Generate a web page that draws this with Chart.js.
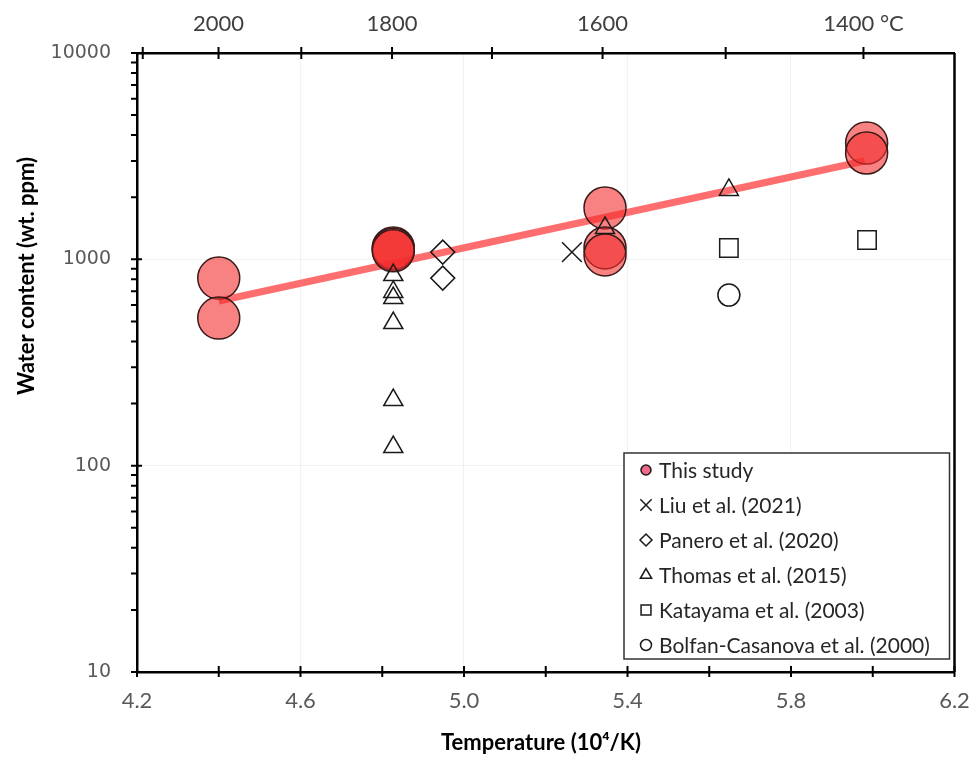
<!DOCTYPE html>
<html>
<head>
<meta charset="utf-8">
<script src="https://cdn.jsdelivr.net/npm/chart.js@4.4.0/dist/chart.umd.min.js"></script>
<style>
  html, body { margin: 0; padding: 0; background: #fff; }
</style>
</head>
<body>
<canvas id="chart" width="977" height="757"></canvas>
<script>
// data (x in 10^4/K, y in wt. ppm)
const thisStudyX = [4.40, 4.40, 4.827, 4.827, 4.827, 5.345, 5.345, 5.345, 5.985, 5.985];
const thisStudyY = [811, 519, 1135, 1120, 1100, 1774, 1135, 1050, 3660, 3276];
const fitX = [4.40, 5.98];
const fitY = [628, 2997];
const liuX = [5.264];
const liuY = [1084];
const paneroX = [4.948, 4.948];
const paneroY = [1084, 811];
const thomasX = [4.827, 4.827, 4.827, 4.827, 4.827, 4.827, 5.345, 5.648];
const thomasY = [839, 695, 649, 491, 208, 123, 1419, 2168];
const katayamaX = [5.648, 5.986];
const katayamaY = [1135, 1241];
const bolfanX = [5.648];
const bolfanY = [671];

// top axis: temperature in degrees C
const topTempsC = [2100, 2000, 1900, 1800, 1700, 1600, 1500, 1400];
const topLabels = ['', '2000', '', '1800', '', '1600', '', '1400 \u00B0C'];
const yLabelValues = [10, 100, 1000, 10000];

const pts = (xs, ys) => xs.map((x, i) => ({ x: x, y: ys[i] }));

const openMarker = {
  backgroundColor: 'rgba(0,0,0,0)',
  borderColor: '#1a1a1a',
  borderWidth: 1.5,
  showLine: false
};

const legendItems = [
  { label: 'This study', style: 'circle', r: 5, fill: '#ee6a86' },
  { label: 'Liu et al. (2021)', style: 'crossRot', r: 8 },
  { label: 'Panero et al. (2020)', style: 'rectRot', r: 6 },
  { label: 'Thomas et al. (2015)', style: 'triangle', r: 6.5 },
  { label: 'Katayama et al. (2003)', style: 'rect', r: 7 },
  { label: 'Bolfan-Casanova et al. (2000)', style: 'circle', r: 5.5 }
];

// tick marks that cross the axis lines, plus right frame line
const axisTicks = {
  id: 'axisTicks',
  afterDraw(chart) {
    const ctx = chart.ctx;
    const a = chart.chartArea;
    ctx.save();
    ctx.strokeStyle = '#000';
    ctx.lineWidth = 2;
    ctx.beginPath();
    chart.scales.x.ticks.forEach(t => {
      const px = chart.scales.x.getPixelForValue(t.value);
      ctx.moveTo(px, a.bottom - 6); ctx.lineTo(px, a.bottom + 5);
    });
    chart.scales.xTop.ticks.forEach(t => {
      const px = chart.scales.xTop.getPixelForValue(t.value);
      ctx.moveTo(px, a.top - 6); ctx.lineTo(px, a.top + 6);
    });
    chart.scales.y.ticks.forEach(t => {
      const py = chart.scales.y.getPixelForValue(t.value);
      const major = yLabelValues.includes(t.value);
      ctx.moveTo(a.left - 6, py); ctx.lineTo(a.left + (major ? 5 : 0), py);
    });
    ctx.stroke();
    ctx.lineWidth = 2.5;
    ctx.beginPath();
    ctx.moveTo(a.right, a.top); ctx.lineTo(a.right, a.bottom);
    ctx.stroke();
    ctx.restore();
  }
};

// axis titles and the boxed legend inside the plot
const annotations = {
  id: 'annotations',
  afterDraw(chart) {
    const ctx = chart.ctx;
    const a = chart.chartArea;
    ctx.save();
    ctx.fillStyle = '#000';
    ctx.font = 'bold 22px Lato';
    ctx.textAlign = 'center';
    ctx.textBaseline = 'middle';
    ctx.fillText('Temperature (10\u2074/K)', 541, 743);
    ctx.translate(27, 276);
    ctx.rotate(-Math.PI / 2);
    ctx.fillText('Water content (wt. ppm)', 0, 0);
    ctx.restore();

    const bx = 624, by = 453, bw = a.right - 5 - 624, bh = 206;
    ctx.save();
    ctx.fillStyle = '#fff';
    ctx.fillRect(bx, by, bw, bh);
    ctx.strokeStyle = '#333';
    ctx.lineWidth = 1.5;
    ctx.strokeRect(bx, by, bw, bh);
    ctx.font = '21px Lato';
    ctx.textAlign = 'left';
    ctx.textBaseline = 'middle';
    legendItems.forEach((it, i) => {
      const cy = by + 17 + i * 35;
      ctx.fillStyle = it.fill || 'rgba(0,0,0,0)';
      ctx.strokeStyle = '#1a1a1a';
      ctx.lineWidth = 1.5;
      Chart.helpers.drawPoint(ctx, { pointStyle: it.style, radius: it.r, rotation: 0, borderWidth: 1.5 }, 646, cy);
      ctx.fillStyle = '#262626';
      ctx.fillText(it.label, 659, cy + 1);
    });
    ctx.restore();
  }
};

const noPadding = scale => {
  scale.paddingLeft = 0; scale.paddingRight = 0;
  scale.paddingTop = 0; scale.paddingBottom = 0;
};

new Chart(document.getElementById('chart'), {
  type: 'scatter',
  data: {
    datasets: [
      {
        label: 'fit',
        data: pts(fitX, fitY),
        showLine: true,
        borderColor: 'rgba(255,85,85,0.85)',
        borderWidth: 7,
        pointRadius: 0,
        order: 10
      },
      {
        label: 'This study',
        data: pts(thisStudyX, thisStudyY),
        pointStyle: 'circle',
        pointRadius: 21,
        backgroundColor: 'rgba(243,45,45,0.6)',
        borderColor: '#3a1a1a',
        borderWidth: 1.5,
        order: 5
      },
      Object.assign({ label: 'Liu et al. (2021)', data: pts(liuX, liuY), pointStyle: 'crossRot', pointRadius: 14, order: 1 }, openMarker),
      Object.assign({ label: 'Panero et al. (2020)', data: pts(paneroX, paneroY), pointStyle: 'rectRot', pointRadius: 12, order: 1 }, openMarker),
      Object.assign({ label: 'Thomas et al. (2015)', data: pts(thomasX, thomasY), pointStyle: 'triangle', pointRadius: 11, order: 1 }, openMarker),
      Object.assign({ label: 'Katayama et al. (2003)', data: pts(katayamaX, katayamaY), pointStyle: 'rect', pointRadius: 13, order: 1 }, openMarker),
      Object.assign({ label: 'Bolfan-Casanova et al. (2000)', data: pts(bolfanX, bolfanY), pointStyle: 'circle', pointRadius: 11, order: 1 }, openMarker)
    ]
  },
  options: {
    responsive: false,
    animation: false,
    layout: { padding: { left: 0, right: 11.5, top: 0, bottom: 0 } },
    plugins: {
      legend: { display: false },
      tooltip: { enabled: false }
    },
    scales: {
      x: {
        type: 'linear',
        position: 'bottom',
        min: 4.2,
        max: 6.2,
        afterBuildTicks: scale => {
          const t = [];
          for (let i = 0; i <= 10; i++) t.push({ value: +(4.2 + i * 0.2).toFixed(1) });
          scale.ticks = t;
        },
        afterFit: scale => { scale.height = 85; noPadding(scale); },
        ticks: {
          autoSkip: false,
          maxRotation: 0,
          padding: 16,
          color: '#595959',
          font: { family: 'Lato', size: 22 },
          callback: (v, i) => (i % 2 === 0 ? v.toFixed(1) : '')
        },
        grid: {
          drawTicks: false,
          color: ctx => (ctx.index % 2 === 0 ? 'rgba(0,0,0,0.05)' : 'rgba(0,0,0,0)')
        },
        border: { display: true, color: '#000', width: 2.5 }
      },
      xTop: {
        type: 'linear',
        position: 'top',
        min: 4.2,
        max: 6.2,
        afterBuildTicks: scale => {
          scale.ticks = topTempsC.map(c => ({ value: 1e4 / (c + 273) }));
        },
        afterFit: scale => { scale.height = 53; noPadding(scale); },
        ticks: {
          autoSkip: false,
          maxRotation: 0,
          padding: 16,
          color: '#404040',
          font: { family: 'Lato', size: 22 },
          callback: (v, i) => topLabels[i]
        },
        grid: { drawOnChartArea: false, drawTicks: false },
        border: { display: true, color: '#000', width: 2.5 }
      },
      y: {
        type: 'logarithmic',
        position: 'left',
        min: 10,
        max: 10000,
        afterBuildTicks: scale => {
          const t = [];
          [10, 100, 1000].forEach(d => {
            for (let k = 1; k <= 9; k++) t.push({ value: d * k });
          });
          t.push({ value: 10000 });
          scale.ticks = t;
        },
        afterFit: scale => { scale.width = 137; noPadding(scale); },
        ticks: {
          autoSkip: false,
          padding: 26,
          color: '#595959',
          font: { family: 'DejaVu Sans', size: 19 },
          callback: v => (yLabelValues.includes(v) ? String(v) : '')
        },
        grid: {
          drawTicks: false,
          color: ctx => (ctx.tick && yLabelValues.includes(ctx.tick.value) ? 'rgba(0,0,0,0.05)' : 'rgba(0,0,0,0)')
        },
        border: { display: true, color: '#000', width: 2.5 }
      }
    }
  },
  plugins: [axisTicks, annotations]
});
</script>
</body>
</html>
